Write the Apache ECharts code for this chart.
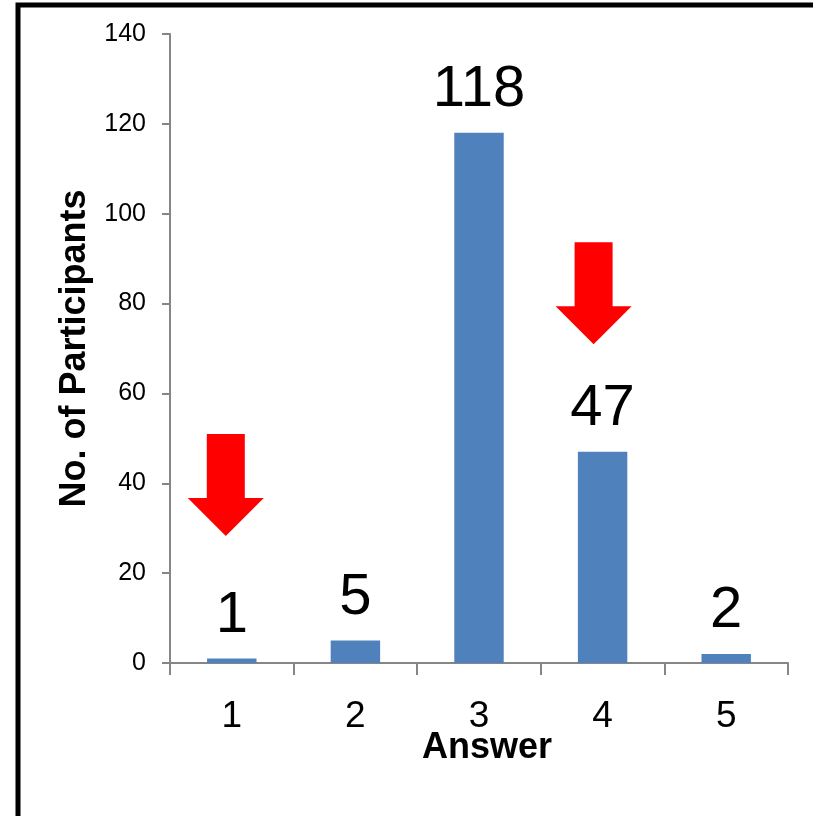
<!DOCTYPE html>
<html>
<head>
<meta charset="utf-8">
<script src="https://cdn.jsdelivr.net/npm/echarts@6/dist/echarts.min.js"></script>
<style>
  html, body { margin: 0; padding: 0; background: #fff; }
  #chart { width: 813px; height: 816px; }
</style>
</head>
<body>
<div id="chart"></div>
<script>
// Survey responses: how many participants picked each answer
const answers = ['1', '2', '3', '4', '5'];
const participants = [1, 5, 118, 47, 2];
const yTicks = { min: 0, max: 140, interval: 20 };

// Down arrows pointing at answers 1 and 4 (category, value at arrow centre)
const arrowSpots = [['1', 39.6], ['4', 82.3]];
const arrowShifts = [-6, -9];

const FONT = '"Liberation Sans", Arial, sans-serif';
const AXIS_GREY = '#868686';
const arrowPath = 'path://M19 0L57 0L57 64L76 64L38 102L0 64L19 64Z';

const chart = echarts.init(document.getElementById('chart'));
chart.setOption({
  animation: false,
  backgroundColor: '#fff',
  textStyle: { fontFamily: FONT },
  graphic: [{
    type: 'rect',
    shape: { x: 18, y: 5, width: 1000, height: 1000 },
    style: { fill: 'none', stroke: '#000', lineWidth: 5 },
    silent: true
  }],
  grid: { left: 170, right: 25, top: 34, bottom: 153 },
  xAxis: {
    type: 'category',
    data: answers,
    name: 'Answer',
    nameLocation: 'middle',
    nameGap: 67,
    nameMoveOverlap: false,
    nameTextStyle: { fontFamily: FONT, fontSize: 36, fontWeight: 'bold', color: '#000', padding: [0, 0, 0, 16] },
    axisLine: { lineStyle: { color: AXIS_GREY, width: 2 } },
    axisTick: { show: true, length: 12, lineStyle: { color: AXIS_GREY, width: 2 } },
    axisLabel: { fontFamily: FONT, fontSize: 37, color: '#000', margin: 35 }
  },
  yAxis: {
    type: 'value',
    min: yTicks.min,
    max: yTicks.max,
    interval: yTicks.interval,
    name: 'No. of Participants',
    nameLocation: 'middle',
    nameRotate: 90,
    nameGap: 77,
    nameMoveOverlap: false,
    nameTextStyle: { fontFamily: FONT, fontSize: 36, fontWeight: 'bold', color: '#000' },
    splitLine: { show: false },
    axisLine: { show: true, lineStyle: { color: AXIS_GREY, width: 2 } },
    axisTick: { show: true, length: 8, lineStyle: { color: AXIS_GREY, width: 2 } },
    axisLabel: { fontFamily: FONT, fontSize: 25, color: '#000', margin: 24 }
  },
  series: [{
    type: 'bar',
    data: participants,
    barWidth: '40%',
    itemStyle: { color: '#4F81BD' },
    label: {
      show: true,
      position: 'top',
      distance: 14,
      fontFamily: FONT,
      fontSize: 58,
      color: '#000'
    },
    markPoint: {
      symbol: arrowPath,
      symbolSize: [76, 102],
      itemStyle: { color: '#FF0000' },
      label: { show: false },
      data: arrowSpots.map((c, i) => ({ coord: c, symbolOffset: [arrowShifts[i], 0] }))
    }
  }]
});
</script>
</body>
</html>
